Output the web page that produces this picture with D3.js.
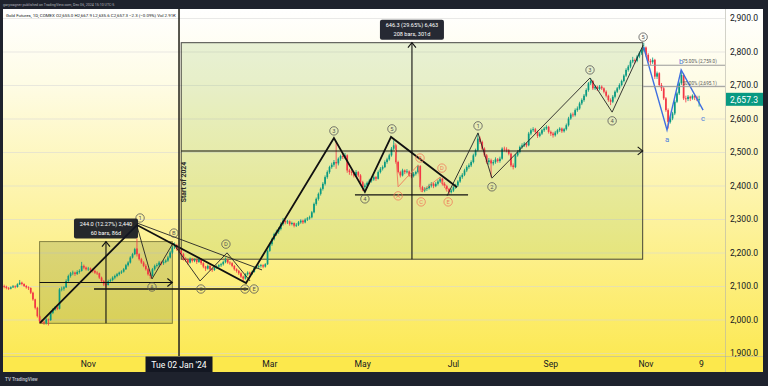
<!DOCTYPE html>
<html><head><meta charset="utf-8">
<script src="https://cdn.jsdelivr.net/npm/d3@7"></script>
<style>body{margin:0;background:#1e222d;overflow:hidden}svg{display:block}</style>
</head><body><svg id="c" width="768" height="386"></svg>
<script>
// ---- OHLC data [open, high, low, close], one array per month ----
const sep23=[[2100,2104,2093,2098],[2098,2101,2090,2094],[2094,2097,2088,2092],[2092,2099,2090,2096],[2096,2103,2094,2099],[2099,2102,2093,2097],[2097,2108,2095,2105],[2105,2118,2103,2110],[2110,2113,2102,2106],[2106,2108,2097,2100],[2100,2103,2092,2096],[2096,2099,2088,2094],[2094,2096,2076,2080],[2080,2083,2056,2060],[2060,2062,2030,2035],[2035,2038,2006,2010]];
const oct23=[[2010,2014,1990,1995],[1995,2000,1988,1992],[1992,1996,1984,1990],[1990,2004,1985,2000],[2000,2003,1982,1998],[1998,2024,1996,2020],[2020,2034,2016,2030],[2030,2040,2026,2036],[2036,2039,2028,2032],[2032,2094,2030,2090],[2090,2098,2084,2092],[2092,2100,2086,2096],[2096,2120,2094,2115],[2115,2134,2110,2130],[2130,2142,2125,2138],[2138,2146,2132,2140],[2140,2143,2130,2136],[2136,2147,2133,2142],[2142,2150,2137,2145],[2145,2172,2143,2160],[2160,2164,2150,2155],[2155,2158,2146,2150]];
const nov23=[[2150,2157,2145,2152],[2152,2155,2143,2148],[2148,2152,2140,2145],[2145,2149,2136,2140],[2140,2144,2133,2138],[2138,2140,2121,2125],[2125,2128,2111,2115],[2115,2118,2100,2105],[2105,2110,2095,2103],[2103,2119,2101,2115],[2115,2122,2110,2118],[2118,2129,2114,2125],[2125,2134,2120,2130],[2130,2139,2126,2135],[2135,2143,2131,2140],[2140,2147,2136,2143],[2143,2154,2140,2150],[2150,2166,2148,2162],[2162,2174,2158,2170],[2170,2189,2167,2185],[2185,2199,2182,2195]];
const dec23=[[2195,2214,2192,2210],[2212,2242,2188,2195],[2195,2198,2176,2180],[2180,2184,2166,2170],[2170,2174,2156,2160],[2160,2165,2146,2150],[2150,2153,2131,2135],[2135,2140,2122,2130],[2130,2154,2128,2150],[2150,2164,2146,2160],[2160,2168,2155,2163],[2163,2175,2158,2170],[2170,2174,2162,2168],[2168,2177,2163,2172],[2172,2180,2168,2176],[2176,2190,2172,2185],[2185,2204,2182,2200],[2200,2219,2196,2215],[2215,2230,2210,2222],[2222,2226,2205,2210]];
const jan24=[[2210,2214,2198,2205],[2205,2208,2190,2195],[2195,2199,2176,2180],[2180,2186,2172,2178],[2178,2181,2164,2170],[2170,2185,2167,2180],[2180,2184,2170,2175],[2175,2182,2171,2178],[2178,2181,2166,2172],[2172,2187,2169,2180],[2180,2183,2163,2168],[2168,2171,2153,2158],[2158,2160,2145,2152],[2152,2164,2149,2160],[2160,2162,2146,2150],[2150,2154,2142,2148],[2148,2159,2145,2155],[2155,2162,2151,2158],[2158,2166,2154,2162],[2162,2169,2157,2165],[2165,2176,2161,2172]];
const feb24=[[2172,2185,2168,2178],[2178,2181,2166,2170],[2170,2174,2163,2168],[2168,2171,2156,2160],[2160,2163,2146,2150],[2150,2153,2140,2145],[2145,2148,2133,2138],[2138,2141,2124,2128],[2128,2131,2115,2122],[2122,2138,2119,2135],[2135,2144,2131,2140],[2140,2143,2132,2136],[2136,2146,2133,2142],[2142,2158,2140,2155],[2155,2161,2151,2158],[2158,2164,2153,2160],[2160,2166,2155,2162],[2162,2165,2153,2158],[2158,2168,2155,2165],[2165,2209,2163,2205]];
const mar24=[[2205,2229,2202,2225],[2225,2244,2220,2240],[2240,2259,2236,2255],[2255,2268,2250,2262],[2262,2275,2256,2270],[2270,2290,2266,2285],[2285,2303,2280,2295],[2295,2298,2284,2290],[2290,2297,2285,2293],[2293,2296,2280,2285],[2285,2292,2281,2288],[2288,2290,2275,2280],[2280,2288,2276,2283],[2283,2294,2279,2290],[2290,2299,2286,2295],[2295,2298,2285,2290],[2290,2302,2287,2298],[2298,2306,2294,2302],[2302,2310,2298,2305],[2305,2324,2302,2320]];
const apr24=[[2320,2349,2317,2345],[2345,2364,2340,2360],[2360,2379,2355,2375],[2375,2394,2370,2390],[2390,2410,2385,2405],[2405,2430,2400,2425],[2425,2445,2420,2440],[2440,2459,2435,2455],[2455,2468,2450,2462],[2462,2476,2456,2470],[2470,2530,2450,2466],[2466,2484,2460,2480],[2480,2492,2474,2488],[2488,2494,2479,2485],[2485,2497,2480,2490],[2490,2493,2438,2445],[2445,2450,2432,2440],[2440,2446,2430,2438],[2438,2442,2424,2430],[2430,2446,2427,2440],[2440,2443,2425,2430],[2430,2434,2405,2410]];
const may24=[[2410,2414,2384,2395],[2395,2406,2388,2400],[2400,2412,2396,2408],[2408,2420,2404,2415],[2415,2422,2409,2418],[2418,2430,2414,2425],[2425,2428,2414,2420],[2420,2445,2418,2440],[2440,2455,2436,2450],[2450,2460,2445,2455],[2455,2475,2452,2470],[2470,2483,2465,2478],[2478,2495,2474,2490],[2490,2515,2486,2510],[2510,2535,2505,2520],[2520,2524,2465,2470],[2470,2474,2436,2440],[2440,2444,2424,2430],[2430,2450,2427,2445],[2445,2448,2434,2440],[2440,2449,2436,2442],[2442,2445,2426,2430]];
const jun24=[[2430,2436,2422,2428],[2428,2440,2424,2435],[2435,2444,2430,2440],[2440,2462,2436,2458],[2458,2461,2388,2395],[2395,2399,2380,2385],[2385,2395,2380,2390],[2390,2397,2384,2392],[2392,2405,2388,2400],[2400,2410,2394,2405],[2405,2408,2392,2398],[2398,2410,2395,2405],[2405,2417,2400,2412],[2412,2425,2408,2420],[2420,2423,2400,2405],[2405,2410,2393,2398],[2398,2402,2384,2390],[2390,2393,2372,2380],[2380,2390,2376,2385]];
const jul24=[[2385,2399,2381,2395],[2395,2405,2390,2400],[2400,2416,2396,2412],[2412,2430,2408,2425],[2425,2437,2420,2432],[2432,2450,2428,2445],[2445,2460,2440,2455],[2455,2466,2450,2460],[2460,2475,2455,2470],[2470,2495,2466,2490],[2490,2510,2486,2505],[2505,2555,2502,2540],[2540,2546,2524,2530],[2530,2534,2505,2510],[2510,2514,2485,2490],[2490,2494,2465,2470],[2470,2482,2462,2475],[2475,2480,2425,2466],[2466,2476,2460,2470],[2470,2484,2465,2478],[2478,2482,2468,2473],[2473,2486,2468,2480]];
const aug24=[[2480,2514,2477,2510],[2510,2516,2502,2508],[2508,2514,2499,2505],[2505,2509,2490,2495],[2495,2498,2455,2460],[2460,2466,2448,2455],[2455,2494,2452,2490],[2490,2506,2486,2500],[2500,2519,2496,2515],[2515,2526,2510,2520],[2520,2530,2515,2525],[2525,2529,2514,2520],[2520,2560,2517,2555],[2555,2570,2550,2565],[2565,2574,2560,2568],[2568,2572,2555,2560],[2560,2564,2542,2548],[2548,2560,2544,2555],[2555,2569,2551,2565],[2565,2575,2560,2570],[2570,2580,2566,2575],[2575,2578,2555,2560]];
const sep24=[[2560,2564,2548,2555],[2555,2560,2543,2550],[2550,2563,2546,2558],[2558,2569,2553,2565],[2565,2574,2560,2570],[2570,2573,2557,2562],[2562,2572,2558,2568],[2568,2585,2564,2580],[2580,2605,2576,2600],[2600,2617,2596,2612],[2612,2618,2604,2610],[2610,2630,2606,2625],[2625,2636,2620,2630],[2630,2650,2626,2645],[2645,2660,2640,2655],[2655,2673,2650,2668],[2668,2690,2664,2685],[2685,2709,2680,2705],[2705,2720,2700,2712],[2712,2715,2685,2690]];
const oct24=[[2690,2700,2685,2695],[2695,2698,2682,2688],[2688,2700,2684,2695],[2695,2699,2685,2690],[2690,2693,2675,2680],[2680,2684,2663,2668],[2668,2671,2650,2655],[2655,2660,2640,2650],[2650,2670,2646,2665],[2665,2684,2660,2680],[2680,2694,2676,2690],[2690,2705,2686,2700],[2700,2716,2696,2712],[2712,2732,2708,2728],[2728,2750,2724,2745],[2745,2760,2740,2755],[2755,2775,2750,2770],[2770,2784,2765,2775],[2775,2779,2764,2772],[2772,2790,2768,2785],[2785,2800,2780,2795],[2795,2810,2790,2805],[2805,2826,2800,2812]];
const nov24=[[2812,2815,2785,2790],[2790,2795,2766,2772],[2772,2778,2760,2768],[2768,2782,2763,2775],[2775,2778,2718,2725],[2725,2740,2718,2735],[2735,2738,2695,2700],[2700,2706,2682,2690],[2690,2694,2655,2660],[2660,2664,2620,2625],[2625,2630,2570,2590],[2590,2606,2585,2600],[2600,2620,2595,2615],[2615,2655,2610,2650],[2650,2680,2646,2675],[2675,2710,2670,2705],[2705,2745,2700,2730],[2730,2735,2655,2660],[2660,2668,2648,2658],[2658,2670,2652,2665]];
const dec24=[[2665,2668,2652,2660],[2660,2672,2656,2668],[2668,2670,2655,2663],[2663,2668,2652,2659.6],[2655.0,2667.9,2635.6,2657.3]];
const months=[sep23,oct23,nov23,dec23,jan24,feb24,mar24,apr24,may24,jun24,jul24,aug24,sep24,oct24,nov24,dec24];

// ---- calendar / ticks ----
const firstDay="2023-09-08", refDay="2024-01-02";
const holidays=["2023-11-23","2023-12-25","2024-01-01","2024-01-15","2024-02-19","2024-03-29","2024-05-27","2024-06-19","2024-07-04","2024-09-02","2024-11-28","2024-12-25"];
const xTickLabels=["Nov","Mar","May","Jul","Sep","Nov","9"];
const xTickDates=["2023-11-01","2024-03-01","2024-05-01","2024-07-01","2024-09-03","2024-11-01","2024-12-09"];
const yTicks=[1900,2000,2100,2200,2300,2400,2500,2600,2700,2800,2900];

// ---- drawings (bar index relative to 2 Jan 2024, price) ----
const thickWave=[[-62.8,1990],[-19,2282],[30.3,2109],[70,2542],[84,2381],[95.8,2545],[125.6,2395]];
const thinWaveA=[[-19,2279],[-12.2,2121],[-2.7,2228],[9.5,2115],[21.7,2199],[32.1,2115]];
const thinTrend=[[-19,2288],[37.5,2148]];
const thinWaveB=[[121.1,2369],[135.1,2557],[141.4,2422],[185.7,2721],[195.7,2619],[209.7,2819]];
const redWave=[[97.6,2527],[99,2396],[108,2461],[109.4,2381],[118,2425],[121.1,2381]];
const blueWave=[[209.9,2813],[220.5,2566],[226.9,2745],[236.8,2625]];
const hLines=[[-38.4,31.2,2091],[79.5,130.6,2372]];
const circleLabels=[["1",-17.6,2303,"k"],["A",-12.2,2097,"k"],["B",-2.3,2258,"k"],["C",9.9,2091,"k"],["D",21.2,2225,"k"],["2",29.8,2091,"k"],["E",33.9,2091,"k"],["3",70,2563,"k"],["4",84,2360,"k"],["5",96.2,2569,"k"],["1",135.1,2578,"k"],["2",141.4,2396,"k"],["3",185.7,2745,"k"],["4",195.7,2593,"k"],["5",209.7,2843,"k"],["A",99,2369,"r"],["B",108.9,2482,"r"],["C",109.4,2351,"r"],["D",118.8,2452,"r"],["E",121.6,2351,"r"]];
const blueLabels=[["a",220.5,2536],["b",226.9,2769],["c",236.8,2599]];
const fibLevels=[2759.0,2695.1], fibNames=["75.00%","50.00%"], fibStart=209.7, fibLabelAt=227.5;
const measures=[{from:-63,to:-3,lo:1988.6,hi:2232.6,t1:"244.0 (12.27%) 2,440",t2:"60 bars, 86d",fill:"rgba(95,115,40,0.22)",stroke:"rgba(90,90,40,0.7)"},
                {from:1,to:209.5,lo:2180.0,hi:2826.3,t1:"646.3 (29.65%) 6,463",t2:"208 bars, 301d",fill:"rgba(120,175,60,0.17)",stroke:"rgba(40,40,40,0.85)"}];
const legendText="Gold Futures, 1D, COMEX  O2,655.0 H2,667.9 L2,635.6 C2,657.3 \u22122.3 (\u22120.09%)  Vol 2.91K";
const headerText="garywagner published on TradingView.com, Dec 06, 2024 15:10 UTC-5";
const lastPrice=2657.3;

// ---- build ----
const hol=new Set(holidays), days=[];
for(let d=new Date(firstDay+"T00:00:00Z"); d<=new Date("2024-12-31T00:00:00Z"); d.setUTCDate(d.getUTCDate()+1)){
  const wd=d.getUTCDay(); if(wd===0||wd===6) continue;
  const s=d.toISOString().slice(0,10); if(hol.has(s)) continue; days.push(s);
}
const i0=days.indexOf(refDay);
const idx=s=>days.indexOf(s)-i0;
const bars=[].concat(...months).map((b,k)=>({i:k-i0,o:b[0],h:b[1],l:b[2],c:b[3]}));

const L=3,R=725,T=9,B=356;
const x=d3.scaleLinear().domain([-79.53,246.7]).range([L,R]);
const y=d3.scaleLinear().domain([1900,2900]).range([353,18]);
const svg=d3.select("#c");
const font="Roboto, 'Liberation Sans', Arial, sans-serif";

const defs=svg.append("defs");
const g=defs.append("linearGradient").attr("id","bg").attr("x1",0).attr("y1",0).attr("x2",0).attr("y2",1);
[[0,"#ffffff"],[0.2,"#fefce6"],[0.55,"#fdf3a4"],[1,"#fce84c"]].forEach(s=>g.append("stop").attr("offset",s[0]).attr("stop-color",s[1]));
defs.append("clipPath").attr("id","clip").append("rect").attr("x",L).attr("y",T).attr("width",R-L).attr("height",B-T);

svg.append("rect").attr("width",768).attr("height",386).attr("fill","#1e222d");
svg.append("rect").attr("x",L).attr("y",T).attr("width",763-L).attr("height",372-T).attr("fill","url(#bg)");

const plot=svg.append("g").attr("clip-path","url(#clip)");
plot.selectAll(".gr").data(yTicks).join("line").attr("x1",L).attr("x2",R).attr("y1",d=>y(d)+0.5).attr("y2",d=>y(d)+0.5)
  .attr("stroke","rgba(215,215,215,0.55)").attr("stroke-width",1);

const line=d3.line().x(d=>x(d[0])).y(d=>y(d[1]));
measures.forEach(m=>{
  plot.append("rect").attr("x",x(m.from)).attr("y",y(m.hi)).attr("width",x(m.to)-x(m.from)).attr("height",y(m.lo)-y(m.hi))
    .attr("fill",m.fill).attr("stroke",m.stroke).attr("stroke-width",1);
});

const up="#089981", dn="#f23645";
const cg=plot.append("g");
cg.selectAll("line").data(bars).join("line").attr("x1",d=>x(d.i)).attr("x2",d=>x(d.i)).attr("y1",d=>y(d.h)).attr("y2",d=>y(d.l))
  .attr("stroke",d=>d.c>=d.o?up:dn).attr("stroke-width",0.8);
cg.selectAll("rect").data(bars).join("rect").attr("x",d=>x(d.i)-0.85).attr("width",1.7)
  .attr("y",d=>y(Math.max(d.o,d.c))).attr("height",d=>Math.max(0.8,Math.abs(y(d.o)-y(d.c))))
  .attr("fill",d=>d.c>=d.o?up:dn);

measures.forEach(m=>{
  const xm=(x(m.from)+x(m.to))/2, ym=(y(m.lo)+y(m.hi))/2;
  plot.append("line").attr("x1",x(m.from)).attr("x2",x(m.to)).attr("y1",ym).attr("y2",ym).attr("stroke","#111").attr("stroke-width",1.1);
  plot.append("line").attr("x1",xm).attr("x2",xm).attr("y1",y(m.lo)).attr("y2",y(m.hi)).attr("stroke","#111").attr("stroke-width",1.1);
  const xe=x(m.to), yt=y(m.hi);
  plot.append("path").attr("d",`M${xe-5},${ym-4}L${xe},${ym}L${xe-5},${ym+4}`).attr("fill","none").attr("stroke","#111").attr("stroke-width",1.1);
  plot.append("path").attr("d",`M${xm-4},${yt+5}L${xm},${yt}L${xm+4},${yt+5}`).attr("fill","none").attr("stroke","#111").attr("stroke-width",1.1);
});

hLines.forEach(h=>plot.append("line").attr("x1",x(h[0])).attr("x2",x(h[1])).attr("y1",y(h[2])).attr("y2",y(h[2])).attr("stroke","#111").attr("stroke-width",1.3));

plot.append("path").attr("d",line(thinTrend)).attr("fill","none").attr("stroke","#222").attr("stroke-width",0.9);
plot.append("path").attr("d",line(thinWaveA)).attr("fill","none").attr("stroke","#222").attr("stroke-width",0.9);
plot.append("path").attr("d",line(thinWaveB)).attr("fill","none").attr("stroke","#222").attr("stroke-width",0.9);
plot.append("path").attr("d",line(redWave)).attr("fill","none").attr("stroke","#f07a5a").attr("stroke-width",0.9);
plot.append("path").attr("d",line(thickWave)).attr("fill","none").attr("stroke","#111").attr("stroke-width",1.8);
plot.append("path").attr("d",line(blueWave)).attr("fill","none").attr("stroke","#3f6fe0").attr("stroke-width",1.4);

fibLevels.forEach((v,k)=>{
  plot.append("line").attr("x1",x(fibStart)).attr("x2",R).attr("y1",y(v)).attr("y2",y(v)).attr("stroke","#9a9a9a").attr("stroke-width",1);
  plot.append("text").attr("x",x(fibLabelAt)).attr("y",y(v)-2).attr("font-size",4.6).attr("font-family",font).attr("fill","#555")
    .text(`${fibNames[k]} (${d3.format(",.1f")(v)})`);
});

circleLabels.forEach(c=>{
  const col=c[3]==="r"?"#f07a5a":"#555";
  plot.append("circle").attr("cx",x(c[1])).attr("cy",y(c[2])).attr("r",4.2).attr("fill","none").attr("stroke",col).attr("stroke-width",0.8);
  plot.append("text").attr("x",x(c[1])).attr("y",y(c[2])+2.1).attr("text-anchor","middle").attr("font-size",5.8).attr("font-family",font).attr("fill",col).text(c[0]);
});
blueLabels.forEach(c=>plot.append("text").attr("x",x(c[1])).attr("y",y(c[2])+2.5).attr("text-anchor","middle").attr("font-size",7.8).attr("font-family",font).attr("fill","#4f7fdc").text(c[0]));

measures.forEach(m=>{
  const xm=(x(m.from)+x(m.to))/2, yt=y(m.hi);
  svg.append("rect").attr("x",xm-32).attr("y",yt-23).attr("width",64).attr("height",20).attr("rx",2).attr("fill","rgba(19,23,34,0.92)");
  svg.append("text").attr("x",xm).attr("y",yt-15.5).attr("text-anchor","middle").attr("font-size",5.6).attr("font-family",font).attr("fill","#fff").text(m.t1);
  svg.append("text").attr("x",xm).attr("y",yt-7).attr("text-anchor","middle").attr("font-size",5.6).attr("font-family",font).attr("fill","#fff").text(m.t2);
});

const xs=x(idx(refDay));
svg.append("line").attr("x1",xs).attr("x2",xs).attr("y1",T).attr("y2",B).attr("stroke","#2e2d24").attr("stroke-width",1.6);
svg.append("text").attr("transform",`translate(${xs+7},182) rotate(-90)`).attr("text-anchor","middle").attr("font-size",6.8).attr("font-weight","bold")
  .attr("font-family",font).attr("fill","#2a2a2a").text("Start of 2024");

svg.append("line").attr("x1",R+0.5).attr("x2",R+0.5).attr("y1",T).attr("y2",372).attr("stroke","rgba(180,180,170,0.6)");
svg.append("line").attr("x1",L).attr("x2",763).attr("y1",B+0.5).attr("y2",B+0.5).attr("stroke","rgba(180,180,170,0.6)");

svg.selectAll(".yt").data(yTicks).join("text").attr("x",730).attr("y",d=>y(d)+3.2).attr("font-size",8.6).attr("font-family",font)
  .attr("fill","#131722").text(d=>d3.format(",.1f")(d));
svg.append("rect").attr("x",R+1).attr("y",y(lastPrice)-6.5).attr("width",763-R-1).attr("height",13).attr("fill","#089981");
svg.append("text").attr("x",730).attr("y",y(lastPrice)+3.2).attr("font-size",8.6).attr("font-family",font).attr("fill","#fff").text(d3.format(",.1f")(lastPrice));
svg.append("rect").attr("x",L).attr("y",B+1).attr("width",763-L).attr("height",372-B-1).attr("fill","#fce84c");
svg.append("line").attr("x1",R+0.5).attr("x2",R+0.5).attr("y1",B).attr("y2",372).attr("stroke","rgba(180,180,170,0.6)");

xTickDates.forEach((d,k)=>svg.append("text").attr("x",x(idx(d))).attr("y",367).attr("text-anchor","middle").attr("font-size",8.6)
  .attr("font-family",font).attr("fill","#131722").text(xTickLabels[k]));
svg.append("rect").attr("x",xs-33.5).attr("y",B+0.5).attr("width",67).attr("height",15.5).attr("fill","#131722");
svg.append("text").attr("x",xs).attr("y",367.5).attr("text-anchor","middle").attr("font-size",8.6).attr("font-family",font).attr("fill","#fff").text("Tue 02 Jan '24");

svg.append("text").attr("x",6).attr("y",16.5).attr("font-size",4.4).attr("font-family",font).attr("fill","#131722").text(legendText);
svg.append("rect").attr("x",0).attr("y",0).attr("width",768).attr("height",T).attr("fill","#1e222d");
svg.append("text").attr("x",3).attr("y",6).attr("font-size",3.6).attr("font-family",font).attr("fill","#b2b5be").text(headerText);
svg.append("rect").attr("x",0).attr("y",372).attr("width",768).attr("height",14).attr("fill","#1e222d");
svg.append("text").attr("x",5).attr("y",381).attr("font-size",4.6).attr("font-family",font).attr("fill","#b2b5be").attr("font-weight","bold").text("TV TradingView");
</script></body></html>
